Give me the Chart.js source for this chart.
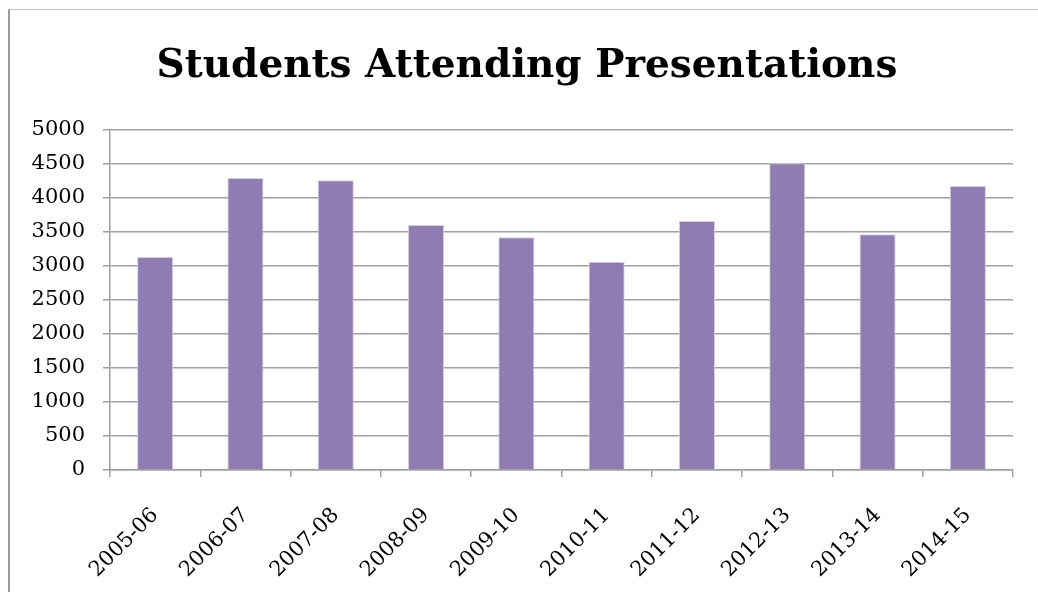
<!DOCTYPE html>
<html>
<head>
<meta charset="utf-8">
<title>Students Attending Presentations</title>
<script src="https://cdn.jsdelivr.net/npm/chart.js@4/dist/chart.umd.min.js"></script>
<style>
  html, body { margin: 0; padding: 0; background: #ffffff; overflow: hidden; width: 1038px; height: 592px; }
  #frame {
    position: absolute; left: 8px; top: 9px;
    width: 1040px; height: 600px;
    border-left: 2px solid #9a9a9a;
    border-top: 1px solid #c4c4c4;
  }
  #chart { position: absolute; left: 0; top: 0; }
</style>
</head>
<body>
<div id="frame"><canvas id="chart" width="1034" height="583"></canvas></div>
<script>
// Academic years shown on the category axis
const years = ['2005-06', '2006-07', '2007-08', '2008-09', '2009-10',
               '2010-11', '2011-12', '2012-13', '2013-14', '2014-15'];

// Number of students attending presentations each year
const attendance = [3130, 4290, 4260, 3600, 3420, 3060, 3660, 4510, 3465, 4175];

// Value-axis range and step
const yMin = 0;
const yMax = 5000;
const yStep = 500;

const serif = "'DejaVu Serif', 'Liberation Serif', serif";

// Center the title over the whole canvas rather than the padded layout box
const fullWidthTitle = {
  id: 'fullWidthTitle',
  afterLayout(chart) {
    const t = chart.titleBlock;
    if (t) {
      t.left = 0;
      t.right = chart.width;
      t.width = chart.width;
    }
  }
};

new Chart(document.getElementById('chart'), {
  type: 'bar',
  data: {
    labels: years,
    datasets: [{
      label: 'Students',
      data: attendance,
      backgroundColor: '#8f7cb0',
      borderColor: '#d6cde6',
      borderWidth: 1,
      barPercentage: 0.4,
      categoryPercentage: 1.0
    }]
  },
  plugins: [fullWidthTitle],
  options: {
    responsive: false,
    devicePixelRatio: 1,
    animation: false,
    layout: { padding: { left: 0, right: 31, top: 0, bottom: 0 } },
    plugins: {
      legend: { display: false },
      tooltip: { enabled: false },
      title: {
        display: true,
        text: 'Students Attending Presentations',
        color: '#000000',
        font: { family: serif, size: 39, weight: 'bold', lineHeight: 1.2 },
        padding: { top: 33, bottom: 40 }
      }
    },
    scales: {
      x: {
        offset: true,
        grid: {
          offset: true,
          drawOnChartArea: false,
          drawTicks: true,
          tickLength: 7,
          color: '#a0a0a0',
          lineWidth: 1.5
        },
        border: { display: true, color: '#a0a0a0', width: 1.5 },
        ticks: {
          color: '#000000',
          font: { family: serif, size: 21 },
          minRotation: 45,
          maxRotation: 45,
          padding: 26
        },
        afterFit: (scale) => { scale.height = 123; }
      },
      y: {
        min: yMin,
        max: yMax,
        grid: {
          drawTicks: true,
          tickLength: 7,
          color: '#a0a0a0',
          lineWidth: 1.5
        },
        border: { display: true, color: '#a0a0a0', width: 1.5 },
        ticks: {
          stepSize: yStep,
          color: '#000000',
          font: { family: serif, size: 21 },
          padding: 18,
          callback: (value) => String(value)
        },
        afterFit: (scale) => { scale.width = 100; }
      }
    }
  }
});
</script>
</body>
</html>
